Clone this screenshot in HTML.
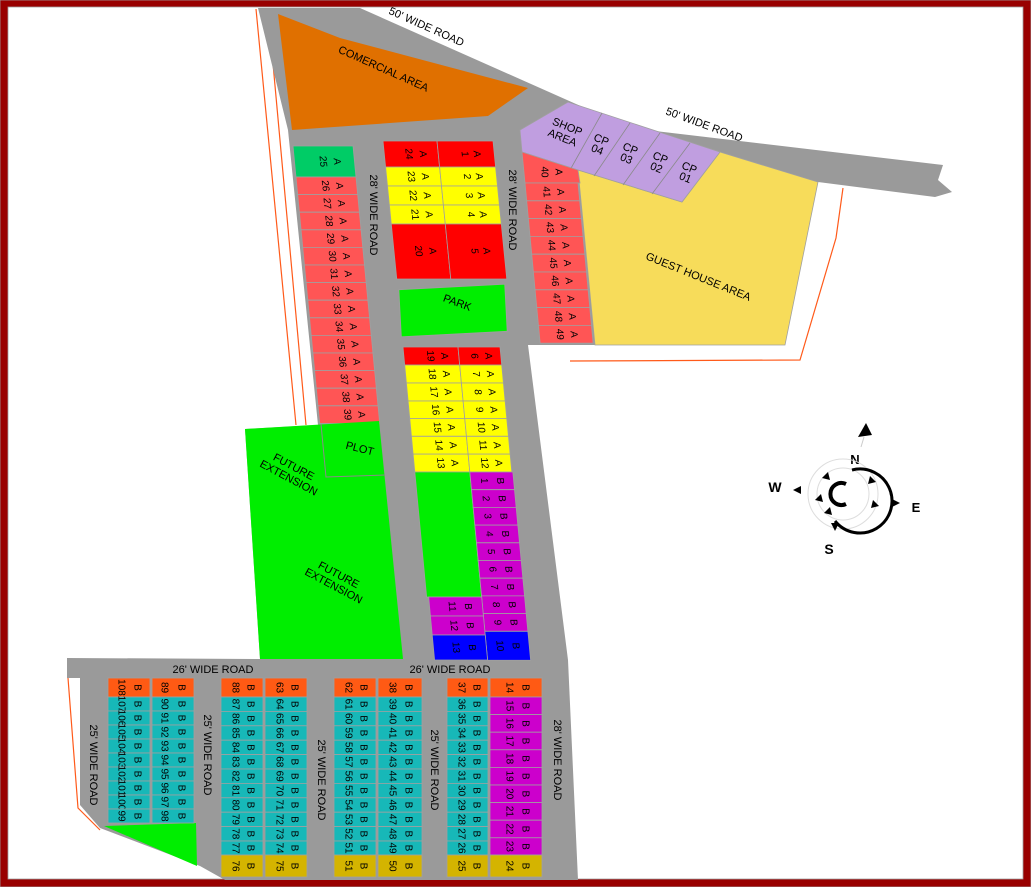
<!DOCTYPE html>
<html><head><meta charset="utf-8"><style>
html,body{margin:0;padding:0;background:#fff}
svg{display:block}
text{font-family:"Liberation Sans",sans-serif;fill:#000}
.v{writing-mode:vertical-rl;text-anchor:middle;font-size:10px}
.r{writing-mode:vertical-rl;text-anchor:middle;font-size:11px}
.h{font-size:11px;text-anchor:middle}
rect,polygon.c{stroke:#a0a0a0;stroke-width:0.8}
</style></head><body>
<svg width="1031" height="887" viewBox="0 0 1031 887" xmlns="http://www.w3.org/2000/svg">
<rect x="0" y="0" width="1031" height="887" fill="#990000"/>
<rect x="8" y="7" width="1015" height="872" fill="#fff"/>

<polyline points="256,9 296,425" fill="none" stroke="#ff5a1a" stroke-width="1.2"/>
<polyline points="268,9 306,425" fill="none" stroke="#ff5a1a" stroke-width="1.2"/>
<polyline points="843,188 836,238 800,360 570,361" fill="none" stroke="#ff5a1a" stroke-width="1.2"/>
<polyline points="68,678 78,808 100,830" fill="none" stroke="#ff5a1a" stroke-width="1.2"/>

<polygon fill="#9a9a9a" points="258,8 360,8 630,128 943,165 938,180 952,192 935,197 818,182 785,345 528,345 568,660 578,880 225,880 200,866 100,828 80,805 80,678 67,678 67,658 260,659 245,429 318,425 288,130"/>

<polygon fill="#e07000" points="278,14 340,38 528,88 488,116 292,130"/>
<text class="h" transform="translate(382,72) rotate(24)">COMERCIAL AREA</text>
<text class="h" transform="translate(425,30) rotate(24)">50' WIDE ROAD</text>
<text class="h" transform="translate(703,128) rotate(20)">50' WIDE ROAD</text>

<polygon fill="#f7dc5a" stroke="#a0a0a0" stroke-width="0.8" points="578,170 682,202 720,152 818,182 785,345 595,345"/>
<text class="h" transform="translate(697,280) rotate(22)">GUEST HOUSE AREA</text>

<polygon fill="#c09ee0" stroke="#a0a0a0" stroke-width="0.8" points="520,130 568,102 720,152 682,202 578,170 522,152"/>
<g stroke="#8a8a8a" stroke-width="0.8"><line x1="602" y1="113" x2="570" y2="170"/><line x1="630" y1="123" x2="594" y2="176"/><line x1="660" y1="133" x2="623" y2="185"/><line x1="690" y1="143" x2="652" y2="194"/></g>
<g>
<text class="h" transform="translate(566,130) rotate(22)">SHOP</text><text class="h" transform="translate(561,141) rotate(22)">AREA</text>
<text class="h" transform="translate(600,143) rotate(22)">CP</text><text class="h" transform="translate(596,153) rotate(22)">04</text>
<text class="h" transform="translate(629,152) rotate(22)">CP</text><text class="h" transform="translate(625,162) rotate(22)">03</text>
<text class="h" transform="translate(659,161) rotate(22)">CP</text><text class="h" transform="translate(655,171) rotate(22)">02</text>
<text class="h" transform="translate(688,171) rotate(22)">CP</text><text class="h" transform="translate(684,181) rotate(22)">01</text>
</g>

<polygon fill="#ff5555" stroke="#a0a0a0" stroke-width="0.8" points="522,152 578,170 580,183 525,183"/>
<text class="v" x="544" y="172">40</text><text class="v" x="558" y="172">A</text>

<g transform="translate(525,183) skewX(5.4)" fill="#ff5555">
<rect x="0" y="0" width="53" height="17.8"/><text class="v" x="20" y="9">41</text><text class="v" x="34" y="9">A</text>
<rect x="0" y="17.8" width="53" height="17.8"/><text class="v" x="20" y="26.7">42</text><text class="v" x="34" y="26.7">A</text>
<rect x="0" y="35.6" width="53" height="17.8"/><text class="v" x="20" y="44.5">43</text><text class="v" x="34" y="44.5">A</text>
<rect x="0" y="53.4" width="53" height="17.8"/><text class="v" x="20" y="62.3">44</text><text class="v" x="34" y="62.3">A</text>
<rect x="0" y="71.2" width="53" height="17.8"/><text class="v" x="20" y="80.1">45</text><text class="v" x="34" y="80.1">A</text>
<rect x="0" y="89" width="53" height="17.8"/><text class="v" x="20" y="97.9">46</text><text class="v" x="34" y="97.9">A</text>
<rect x="0" y="106.8" width="53" height="17.8"/><text class="v" x="20" y="115.7">47</text><text class="v" x="34" y="115.7">A</text>
<rect x="0" y="124.6" width="53" height="17.8"/><text class="v" x="20" y="133.5">48</text><text class="v" x="34" y="133.5">A</text>
<rect x="0" y="142.4" width="53" height="17.8"/><text class="v" x="20" y="151.3">49</text><text class="v" x="34" y="151.3">A</text>
</g>

<g transform="translate(293,146) skewX(5.5)" fill="#ff5555">
<rect x="0" y="0" width="60" height="31" fill="#00cc66"/><text class="v" x="28" y="15.5">25</text><text class="v" x="42" y="15.5">A</text>
<rect x="0" y="31" width="60" height="17.6"/><text class="v" x="28" y="39.8">26</text><text class="v" x="42" y="39.8">A</text>
<rect x="0" y="48.6" width="60" height="17.6"/><text class="v" x="28" y="57.4">27</text><text class="v" x="42" y="57.4">A</text>
<rect x="0" y="66.2" width="60" height="17.6"/><text class="v" x="28" y="75">28</text><text class="v" x="42" y="75">A</text>
<rect x="0" y="83.8" width="60" height="17.6"/><text class="v" x="28" y="92.6">29</text><text class="v" x="42" y="92.6">A</text>
<rect x="0" y="101.4" width="60" height="17.6"/><text class="v" x="28" y="110.2">30</text><text class="v" x="42" y="110.2">A</text>
<rect x="0" y="119" width="60" height="17.6"/><text class="v" x="28" y="127.8">31</text><text class="v" x="42" y="127.8">A</text>
<rect x="0" y="136.6" width="60" height="17.6"/><text class="v" x="28" y="145.4">32</text><text class="v" x="42" y="145.4">A</text>
<rect x="0" y="154.2" width="60" height="17.6"/><text class="v" x="28" y="163">33</text><text class="v" x="42" y="163">A</text>
<rect x="0" y="171.8" width="60" height="17.6"/><text class="v" x="28" y="180.6">34</text><text class="v" x="42" y="180.6">A</text>
<rect x="0" y="189.4" width="60" height="17.6"/><text class="v" x="28" y="198.2">35</text><text class="v" x="42" y="198.2">A</text>
<rect x="0" y="207" width="60" height="17.6"/><text class="v" x="28" y="215.8">36</text><text class="v" x="42" y="215.8">A</text>
<rect x="0" y="224.6" width="60" height="17.6"/><text class="v" x="28" y="233.4">37</text><text class="v" x="42" y="233.4">A</text>
<rect x="0" y="242.2" width="60" height="17.6"/><text class="v" x="28" y="251">38</text><text class="v" x="42" y="251">A</text>
<rect x="0" y="259.8" width="60" height="17.6"/><text class="v" x="28" y="268.6">39</text><text class="v" x="42" y="268.6">A</text>
</g>

<text class="r" x="373" y="215">28' WIDE ROAD</text>
<text class="r" x="512" y="210">28' WIDE ROAD</text>

<g transform="translate(383,141) skewX(5.7)">
<rect x="0" y="0" width="54" height="26" fill="#ff0000"/><text class="v" x="24" y="13">24</text><text class="v" x="38" y="13">A</text>
<rect x="54" y="0" width="56" height="26" fill="#ff0000"/><text class="v" x="80" y="13">1</text><text class="v" x="92" y="13">A</text>
<rect x="0" y="26" width="54" height="19" fill="#ffff00"/><text class="v" x="24" y="35.5">23</text><text class="v" x="38" y="35.5">A</text>
<rect x="54" y="26" width="56" height="19" fill="#ffff00"/><text class="v" x="80" y="35.5">2</text><text class="v" x="92" y="35.5">A</text>
<rect x="0" y="45" width="54" height="19" fill="#ffff00"/><text class="v" x="24" y="54.5">22</text><text class="v" x="38" y="54.5">A</text>
<rect x="54" y="45" width="56" height="19" fill="#ffff00"/><text class="v" x="80" y="54.5">3</text><text class="v" x="92" y="54.5">A</text>
<rect x="0" y="64" width="54" height="19" fill="#ffff00"/><text class="v" x="24" y="73.5">21</text><text class="v" x="38" y="73.5">A</text>
<rect x="54" y="64" width="56" height="19" fill="#ffff00"/><text class="v" x="80" y="73.5">4</text><text class="v" x="92" y="73.5">A</text>
<rect x="0" y="83" width="54" height="55" fill="#ff0000"/><text class="v" x="24" y="110">20</text><text class="v" x="38" y="110">A</text>
<rect x="54" y="83" width="56" height="55" fill="#ff0000"/><text class="v" x="80" y="110">5</text><text class="v" x="92" y="110">A</text>
</g>

<rect x="400" y="287" width="106" height="47" fill="#00ee00" transform="rotate(-3 453 310)"/>
<text class="h" transform="translate(456,306) rotate(20)">PARK</text>

<g transform="translate(403,347) skewX(5.4)">
<rect x="0" y="0" width="55" height="18" fill="#ff0000"/><text class="v" x="26" y="9">19</text><text class="v" x="40" y="9">A</text>
<rect x="55" y="0" width="42" height="18" fill="#ff0000"/><text class="v" x="70" y="9">6</text><text class="v" x="84" y="9">A</text>
<rect x="0" y="18" width="55" height="18" fill="#ffff00"/><text class="v" x="26" y="27">18</text><text class="v" x="40" y="27">A</text>
<rect x="55" y="18" width="42" height="18" fill="#ffff00"/><text class="v" x="70" y="27">7</text><text class="v" x="84" y="27">A</text>
<rect x="0" y="36" width="55" height="18" fill="#ffff00"/><text class="v" x="26" y="45">17</text><text class="v" x="40" y="45">A</text>
<rect x="55" y="36" width="42" height="18" fill="#ffff00"/><text class="v" x="70" y="45">8</text><text class="v" x="84" y="45">A</text>
<rect x="0" y="54" width="55" height="17.5" fill="#ffff00"/><text class="v" x="26" y="62.7">16</text><text class="v" x="40" y="62.7">A</text>
<rect x="55" y="54" width="42" height="17.5" fill="#ffff00"/><text class="v" x="70" y="62.7">9</text><text class="v" x="84" y="62.7">A</text>
<rect x="0" y="71.5" width="55" height="17.8" fill="#ffff00"/><text class="v" x="26" y="80.4">15</text><text class="v" x="40" y="80.4">A</text>
<rect x="55" y="71.5" width="42" height="17.8" fill="#ffff00"/><text class="v" x="70" y="80.4">10</text><text class="v" x="84" y="80.4">A</text>
<rect x="0" y="89.3" width="55" height="17.8" fill="#ffff00"/><text class="v" x="26" y="98.2">14</text><text class="v" x="40" y="98.2">A</text>
<rect x="55" y="89.3" width="42" height="17.8" fill="#ffff00"/><text class="v" x="70" y="98.2">11</text><text class="v" x="84" y="98.2">A</text>
<rect x="0" y="107.1" width="55" height="17.9" fill="#ffff00"/><text class="v" x="26" y="116">13</text><text class="v" x="40" y="116">A</text>
<rect x="55" y="107.1" width="42" height="17.9" fill="#ffff00"/><text class="v" x="70" y="116">12</text><text class="v" x="84" y="116">A</text>
<rect x="0" y="125" width="55" height="125" fill="#00ee00" stroke="none"/>
<g fill="#cc00cc">
<rect x="55" y="125" width="43" height="17.7"/><text class="v" x="68" y="133.8">1</text><text class="v" x="84" y="133.8">B</text>
<rect x="55" y="142.7" width="43" height="17.7"/><text class="v" x="68" y="151.5">2</text><text class="v" x="84" y="151.5">B</text>
<rect x="55" y="160.4" width="43" height="17.7"/><text class="v" x="68" y="169.2">3</text><text class="v" x="84" y="169.2">B</text>
<rect x="55" y="178.1" width="43" height="17.7"/><text class="v" x="68" y="186.9">4</text><text class="v" x="84" y="186.9">B</text>
<rect x="55" y="195.8" width="43" height="17.7"/><text class="v" x="68" y="204.6">5</text><text class="v" x="84" y="204.6">B</text>
<rect x="55" y="213.5" width="43" height="17.7"/><text class="v" x="68" y="222.3">6</text><text class="v" x="84" y="222.3">B</text>
<rect x="55" y="231.2" width="43" height="17.7"/><text class="v" x="68" y="240">7</text><text class="v" x="84" y="240">B</text>
<rect x="55" y="248.9" width="43" height="17.7"/><text class="v" x="68" y="257.7">8</text><text class="v" x="84" y="257.7">B</text>
<rect x="55" y="266.6" width="43" height="17.7"/><text class="v" x="68" y="275.4">9</text><text class="v" x="84" y="275.4">B</text>
<rect x="2" y="250" width="53" height="19"/><text class="v" x="24" y="259.5">11</text><text class="v" x="40" y="259.5">B</text>
<rect x="2" y="269" width="53" height="19"/><text class="v" x="24" y="278.5">12</text><text class="v" x="40" y="278.5">B</text>
</g>
<rect x="55" y="284.3" width="43" height="29" fill="#0000ff"/><text class="v" x="68" y="298.8">10</text><text class="v" x="84" y="298.8">B</text>
<rect x="2" y="288" width="53" height="25" fill="#0000ff"/><text class="v" x="24" y="300.5">13</text><text class="v" x="40" y="300.5">B</text>
</g>

<polygon fill="#00ee00" points="245,429 379,421 403,659 260,659"/>
<polyline points="321,424 326,477 385,475" fill="none" stroke="#8a8a8a" stroke-width="1"/>
<text class="h" transform="translate(359,452) rotate(14)">PLOT</text>
<text class="h" transform="translate(292,470) rotate(28)">FUTURE</text>
<text class="h" transform="translate(287,481) rotate(28)">EXTENSION</text>
<text class="h" transform="translate(337,578) rotate(28)">FUTURE</text>
<text class="h" transform="translate(332,589) rotate(28)">EXTENSION</text>

<text class="h" x="213" y="673">26' WIDE ROAD</text>
<text class="h" x="450" y="673">26' WIDE ROAD</text>
<text class="r" x="93" y="765">25' WIDE ROAD</text>
<text class="r" x="207" y="755">25' WIDE ROAD</text>
<text class="r" x="321" y="780">25' WIDE ROAD</text>
<text class="r" x="434" y="770">25' WIDE ROAD</text>
<text class="r" x="557" y="760">28' WIDE ROAD</text>

<polygon fill="#00ee00" points="104,826 196,823 197,866"/>

<g fill="#17b8b8">
<rect x="108" y="678" width="42" height="19" fill="#ff5a14"/><text class="v" x="121" y="687.5">108</text><text class="v" x="137" y="687.5">B</text>
<rect x="152" y="678" width="42" height="19" fill="#ff5a14"/><text class="v" x="164" y="687.5">89</text><text class="v" x="181" y="687.5">B</text>
<rect x="108" y="697" width="42" height="14"/><text class="v" x="121" y="704">107</text><text class="v" x="137" y="704">B</text>
<rect x="108" y="711" width="42" height="14"/><text class="v" x="121" y="718">106</text><text class="v" x="137" y="718">B</text>
<rect x="108" y="725" width="42" height="14"/><text class="v" x="121" y="732">105</text><text class="v" x="137" y="732">B</text>
<rect x="108" y="739" width="42" height="14"/><text class="v" x="121" y="746">104</text><text class="v" x="137" y="746">B</text>
<rect x="108" y="753" width="42" height="14"/><text class="v" x="121" y="760">103</text><text class="v" x="137" y="760">B</text>
<rect x="108" y="767" width="42" height="14"/><text class="v" x="121" y="774">102</text><text class="v" x="137" y="774">B</text>
<rect x="108" y="781" width="42" height="14"/><text class="v" x="121" y="788">101</text><text class="v" x="137" y="788">B</text>
<rect x="108" y="795" width="42" height="14"/><text class="v" x="121" y="802">100</text><text class="v" x="137" y="802">B</text>
<rect x="108" y="809" width="42" height="14"/><text class="v" x="121" y="816">99</text><text class="v" x="137" y="816">B</text>
<rect x="152" y="697" width="42" height="14"/><text class="v" x="164" y="704">90</text><text class="v" x="181" y="704">B</text>
<rect x="152" y="711" width="42" height="14"/><text class="v" x="164" y="718">91</text><text class="v" x="181" y="718">B</text>
<rect x="152" y="725" width="42" height="14"/><text class="v" x="164" y="732">92</text><text class="v" x="181" y="732">B</text>
<rect x="152" y="739" width="42" height="14"/><text class="v" x="164" y="746">93</text><text class="v" x="181" y="746">B</text>
<rect x="152" y="753" width="42" height="14"/><text class="v" x="164" y="760">94</text><text class="v" x="181" y="760">B</text>
<rect x="152" y="767" width="42" height="14"/><text class="v" x="164" y="774">95</text><text class="v" x="181" y="774">B</text>
<rect x="152" y="781" width="42" height="14"/><text class="v" x="164" y="788">96</text><text class="v" x="181" y="788">B</text>
<rect x="152" y="795" width="42" height="14"/><text class="v" x="164" y="802">97</text><text class="v" x="181" y="802">B</text>
<rect x="152" y="809" width="42" height="14"/><text class="v" x="164" y="816">98</text><text class="v" x="181" y="816">B</text>
</g>

<g fill="#17b8b8">
<rect x="221" y="678" width="42" height="19" fill="#ff5a14"/><text class="v" x="235" y="687.5">88</text><text class="v" x="250" y="687.5">B</text>
<rect x="265" y="678" width="42" height="19" fill="#ff5a14"/><text class="v" x="279" y="687.5">63</text><text class="v" x="294" y="687.5">B</text>
<rect x="221" y="697" width="42" height="14.4"/><text class="v" x="235" y="704.2">87</text><text class="v" x="250" y="704.2">B</text>
<rect x="221" y="711.4" width="42" height="14.4"/><text class="v" x="235" y="718.6">86</text><text class="v" x="250" y="718.6">B</text>
<rect x="221" y="725.8" width="42" height="14.4"/><text class="v" x="235" y="733">85</text><text class="v" x="250" y="733">B</text>
<rect x="221" y="740.2" width="42" height="14.4"/><text class="v" x="235" y="747.4">84</text><text class="v" x="250" y="747.4">B</text>
<rect x="221" y="754.6" width="42" height="14.4"/><text class="v" x="235" y="761.8">83</text><text class="v" x="250" y="761.8">B</text>
<rect x="221" y="769" width="42" height="14.4"/><text class="v" x="235" y="776.2">82</text><text class="v" x="250" y="776.2">B</text>
<rect x="221" y="783.4" width="42" height="14.4"/><text class="v" x="235" y="790.6">81</text><text class="v" x="250" y="790.6">B</text>
<rect x="221" y="797.8" width="42" height="14.4"/><text class="v" x="235" y="805">80</text><text class="v" x="250" y="805">B</text>
<rect x="221" y="812.2" width="42" height="14.4"/><text class="v" x="235" y="819.4">79</text><text class="v" x="250" y="819.4">B</text>
<rect x="221" y="826.6" width="42" height="14.4"/><text class="v" x="235" y="833.8">78</text><text class="v" x="250" y="833.8">B</text>
<rect x="221" y="841" width="42" height="14"/><text class="v" x="235" y="848">77</text><text class="v" x="250" y="848">B</text>
<rect x="221" y="855" width="42" height="22" fill="#d4b400"/><text class="v" x="235" y="866">76</text><text class="v" x="250" y="866">B</text>
<rect x="265" y="697" width="42" height="14.4"/><text class="v" x="279" y="704.2">64</text><text class="v" x="294" y="704.2">B</text>
<rect x="265" y="711.4" width="42" height="14.4"/><text class="v" x="279" y="718.6">65</text><text class="v" x="294" y="718.6">B</text>
<rect x="265" y="725.8" width="42" height="14.4"/><text class="v" x="279" y="733">66</text><text class="v" x="294" y="733">B</text>
<rect x="265" y="740.2" width="42" height="14.4"/><text class="v" x="279" y="747.4">67</text><text class="v" x="294" y="747.4">B</text>
<rect x="265" y="754.6" width="42" height="14.4"/><text class="v" x="279" y="761.8">68</text><text class="v" x="294" y="761.8">B</text>
<rect x="265" y="769" width="42" height="14.4"/><text class="v" x="279" y="776.2">69</text><text class="v" x="294" y="776.2">B</text>
<rect x="265" y="783.4" width="42" height="14.4"/><text class="v" x="279" y="790.6">70</text><text class="v" x="294" y="790.6">B</text>
<rect x="265" y="797.8" width="42" height="14.4"/><text class="v" x="279" y="805">71</text><text class="v" x="294" y="805">B</text>
<rect x="265" y="812.2" width="42" height="14.4"/><text class="v" x="279" y="819.4">72</text><text class="v" x="294" y="819.4">B</text>
<rect x="265" y="826.6" width="42" height="14.4"/><text class="v" x="279" y="833.8">73</text><text class="v" x="294" y="833.8">B</text>
<rect x="265" y="841" width="42" height="14"/><text class="v" x="279" y="848">74</text><text class="v" x="294" y="848">B</text>
<rect x="265" y="855" width="42" height="22" fill="#d4b400"/><text class="v" x="279" y="866">75</text><text class="v" x="294" y="866">B</text>
</g>

<g fill="#17b8b8">
<rect x="334" y="678" width="42" height="19" fill="#ff5a14"/><text class="v" x="348" y="687.5">62</text><text class="v" x="363" y="687.5">B</text>
<rect x="378" y="678" width="44" height="19" fill="#ff5a14"/><text class="v" x="392" y="687.5">38</text><text class="v" x="408" y="687.5">B</text>
<rect x="334" y="697" width="42" height="14.4"/><text class="v" x="348" y="704.2">61</text><text class="v" x="363" y="704.2">B</text>
<rect x="334" y="711.4" width="42" height="14.4"/><text class="v" x="348" y="718.6">60</text><text class="v" x="363" y="718.6">B</text>
<rect x="334" y="725.8" width="42" height="14.4"/><text class="v" x="348" y="733">59</text><text class="v" x="363" y="733">B</text>
<rect x="334" y="740.2" width="42" height="14.4"/><text class="v" x="348" y="747.4">58</text><text class="v" x="363" y="747.4">B</text>
<rect x="334" y="754.6" width="42" height="14.4"/><text class="v" x="348" y="761.8">57</text><text class="v" x="363" y="761.8">B</text>
<rect x="334" y="769" width="42" height="14.4"/><text class="v" x="348" y="776.2">56</text><text class="v" x="363" y="776.2">B</text>
<rect x="334" y="783.4" width="42" height="14.4"/><text class="v" x="348" y="790.6">55</text><text class="v" x="363" y="790.6">B</text>
<rect x="334" y="797.8" width="42" height="14.4"/><text class="v" x="348" y="805">54</text><text class="v" x="363" y="805">B</text>
<rect x="334" y="812.2" width="42" height="14.4"/><text class="v" x="348" y="819.4">53</text><text class="v" x="363" y="819.4">B</text>
<rect x="334" y="826.6" width="42" height="14.4"/><text class="v" x="348" y="833.8">52</text><text class="v" x="363" y="833.8">B</text>
<rect x="334" y="841" width="42" height="14"/><text class="v" x="348" y="848">51</text><text class="v" x="363" y="848">B</text>
<rect x="334" y="855" width="42" height="22" fill="#d4b400"/><text class="v" x="348" y="866">51</text><text class="v" x="363" y="866">B</text>
<rect x="378" y="697" width="44" height="14.4"/><text class="v" x="392" y="704.2">39</text><text class="v" x="408" y="704.2">B</text>
<rect x="378" y="711.4" width="44" height="14.4"/><text class="v" x="392" y="718.6">40</text><text class="v" x="408" y="718.6">B</text>
<rect x="378" y="725.8" width="44" height="14.4"/><text class="v" x="392" y="733">41</text><text class="v" x="408" y="733">B</text>
<rect x="378" y="740.2" width="44" height="14.4"/><text class="v" x="392" y="747.4">42</text><text class="v" x="408" y="747.4">B</text>
<rect x="378" y="754.6" width="44" height="14.4"/><text class="v" x="392" y="761.8">43</text><text class="v" x="408" y="761.8">B</text>
<rect x="378" y="769" width="44" height="14.4"/><text class="v" x="392" y="776.2">44</text><text class="v" x="408" y="776.2">B</text>
<rect x="378" y="783.4" width="44" height="14.4"/><text class="v" x="392" y="790.6">45</text><text class="v" x="408" y="790.6">B</text>
<rect x="378" y="797.8" width="44" height="14.4"/><text class="v" x="392" y="805">46</text><text class="v" x="408" y="805">B</text>
<rect x="378" y="812.2" width="44" height="14.4"/><text class="v" x="392" y="819.4">47</text><text class="v" x="408" y="819.4">B</text>
<rect x="378" y="826.6" width="44" height="14.4"/><text class="v" x="392" y="833.8">48</text><text class="v" x="408" y="833.8">B</text>
<rect x="378" y="841" width="44" height="14"/><text class="v" x="392" y="848">49</text><text class="v" x="408" y="848">B</text>
<rect x="378" y="855" width="44" height="22" fill="#d4b400"/><text class="v" x="392" y="866">50</text><text class="v" x="408" y="866">B</text>
</g>

<g fill="#17b8b8">
<rect x="447" y="678" width="41" height="19" fill="#ff5a14"/><text class="v" x="461" y="687.5">37</text><text class="v" x="476" y="687.5">B</text>
<rect x="490" y="678" width="52" height="19" fill="#ff5a14"/><text class="v" x="509" y="687.5">14</text><text class="v" x="525" y="687.5">B</text>
<rect x="447" y="697" width="41" height="14.4"/><text class="v" x="461" y="704.2">36</text><text class="v" x="476" y="704.2">B</text>
<rect x="447" y="711.4" width="41" height="14.4"/><text class="v" x="461" y="718.6">35</text><text class="v" x="476" y="718.6">B</text>
<rect x="447" y="725.8" width="41" height="14.4"/><text class="v" x="461" y="733">34</text><text class="v" x="476" y="733">B</text>
<rect x="447" y="740.2" width="41" height="14.4"/><text class="v" x="461" y="747.4">33</text><text class="v" x="476" y="747.4">B</text>
<rect x="447" y="754.6" width="41" height="14.4"/><text class="v" x="461" y="761.8">32</text><text class="v" x="476" y="761.8">B</text>
<rect x="447" y="769" width="41" height="14.4"/><text class="v" x="461" y="776.2">31</text><text class="v" x="476" y="776.2">B</text>
<rect x="447" y="783.4" width="41" height="14.4"/><text class="v" x="461" y="790.6">30</text><text class="v" x="476" y="790.6">B</text>
<rect x="447" y="797.8" width="41" height="14.4"/><text class="v" x="461" y="805">29</text><text class="v" x="476" y="805">B</text>
<rect x="447" y="812.2" width="41" height="14.4"/><text class="v" x="461" y="819.4">28</text><text class="v" x="476" y="819.4">B</text>
<rect x="447" y="826.6" width="41" height="14.4"/><text class="v" x="461" y="833.8">27</text><text class="v" x="476" y="833.8">B</text>
<rect x="447" y="841" width="41" height="14"/><text class="v" x="461" y="848">26</text><text class="v" x="476" y="848">B</text>
<rect x="447" y="855" width="41" height="22" fill="#d4b400"/><text class="v" x="461" y="866">25</text><text class="v" x="476" y="866">B</text>
<g fill="#cc00cc">
<rect x="490" y="697" width="52" height="17.6"/><text class="v" x="509" y="705.8">15</text><text class="v" x="525" y="705.8">B</text>
<rect x="490" y="714.6" width="52" height="17.6"/><text class="v" x="509" y="723.4">16</text><text class="v" x="525" y="723.4">B</text>
<rect x="490" y="732.2" width="52" height="17.6"/><text class="v" x="509" y="741">17</text><text class="v" x="525" y="741">B</text>
<rect x="490" y="749.8" width="52" height="17.6"/><text class="v" x="509" y="758.6">18</text><text class="v" x="525" y="758.6">B</text>
<rect x="490" y="767.4" width="52" height="17.6"/><text class="v" x="509" y="776.2">19</text><text class="v" x="525" y="776.2">B</text>
<rect x="490" y="785" width="52" height="17.6"/><text class="v" x="509" y="793.8">20</text><text class="v" x="525" y="793.8">B</text>
<rect x="490" y="802.6" width="52" height="17.6"/><text class="v" x="509" y="811.4">21</text><text class="v" x="525" y="811.4">B</text>
<rect x="490" y="820.2" width="52" height="17.6"/><text class="v" x="509" y="829">22</text><text class="v" x="525" y="829">B</text>
<rect x="490" y="837.8" width="52" height="17.2"/><text class="v" x="509" y="846.4">23</text><text class="v" x="525" y="846.4">B</text>
</g>
<rect x="490" y="855" width="52" height="22" fill="#d4b400"/><text class="v" x="509" y="866">24</text><text class="v" x="525" y="866">B</text>
</g>

<g>
<polygon points="866,423 858,437 872,435" fill="#000"/>
<line x1="864" y1="437" x2="861" y2="447" stroke="#ccc" stroke-width="1"/>
<text x="855" y="464" font-size="13" font-weight="bold" fill="#ff2020" text-anchor="middle" font-family="Liberation Serif">N</text>
<text x="775" y="492" font-size="14" font-weight="bold" text-anchor="middle" font-family="Liberation Serif">W</text>
<text x="916" y="512" font-size="13" font-weight="bold" text-anchor="middle" font-family="Liberation Serif">E</text>
<text x="829" y="554" font-size="14" font-weight="bold" text-anchor="middle" font-family="Liberation Serif">S</text>
<circle cx="843" cy="494" r="35" fill="none" stroke="#ddd" stroke-width="1"/>
<circle cx="843" cy="494" r="26" fill="none" stroke="#ddd" stroke-width="1"/>
<path d="M852,470 A32,32 0 1,1 835,521" fill="none" stroke="#000" stroke-width="3"/>
<path d="M846,484 A11,11 0 1,0 846,504" fill="none" stroke="#000" stroke-width="4"/>
<polygon points="793,490 801,486 801,494" fill="#000"/>
<polygon points="900,503 892,499 892,507" fill="#000"/>
<polygon points="835,531 831,523 839,523" fill="#000"/>
<polygon points="822,478 828,472 830,480" fill="#000"/>
<polygon points="815,500 821,494 823,502" fill="#000"/>
<polygon points="824,513 830,507 832,515" fill="#000"/>
<polygon points="870,476 876,482 868,484" fill="#000"/>
<polygon points="873,500 879,506 871,508" fill="#000"/>
</g>
</svg>
</body></html>
